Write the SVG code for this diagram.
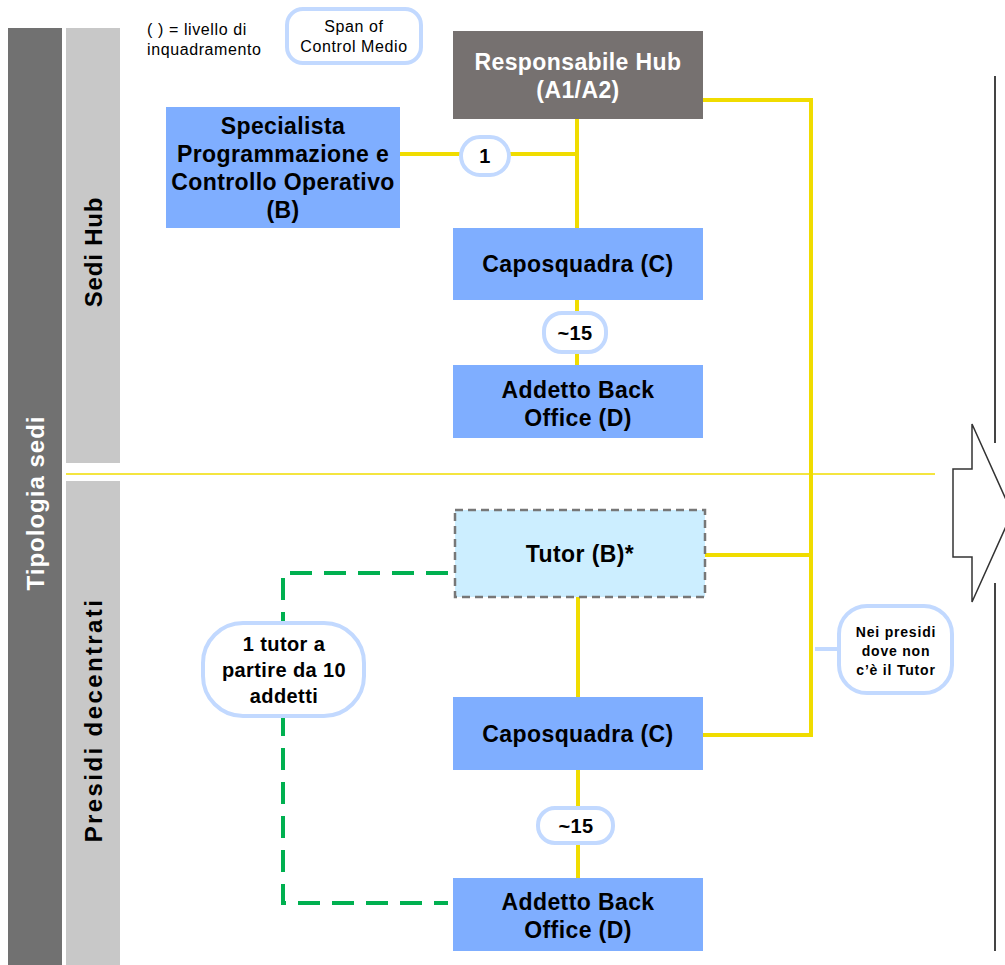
<svg xmlns="http://www.w3.org/2000/svg" width="1005" height="965" viewBox="0 0 1005 965">
<style>
text{font-family:"Liberation Sans",Arial,sans-serif;text-anchor:middle}
.b{font-weight:bold;font-size:23px;letter-spacing:0.4px;fill:#000}
.box{fill:#7FAEFF}
.badge{fill:#fff;stroke:#C2D9FF;stroke-width:4}
.y{stroke:#F0DC00;stroke-width:4;fill:none}
.g{stroke:#00B050;stroke-width:4;fill:none;stroke-dasharray:22,12}
.bt{font-weight:bold;font-size:20px;letter-spacing:0.4px}
.lg{font-size:16px;letter-spacing:0.6px}
.nb{font-weight:bold;font-size:14px;letter-spacing:0.8px}
</style>
<rect width="1005" height="965" fill="#fff"/>
<g id="bands">
<rect x="8" y="28" width="54" height="937" fill="#717171"/>
<rect x="66" y="28" width="54" height="435" fill="#C8C8C8"/>
<rect x="66" y="481" width="54" height="484" fill="#C8C8C8"/>
<text transform="translate(44,503) rotate(-90)" style="font-weight:bold;font-size:24px;letter-spacing:1px;fill:#fff">Tipologia sedi</text>
<text transform="translate(102,252) rotate(-90)" style="font-weight:bold;font-size:24px;letter-spacing:0.8px;fill:#000">Sedi Hub</text>
<text transform="translate(102,720) rotate(-90)" style="font-weight:bold;font-size:24px;letter-spacing:2.4px;fill:#000">Presidi decentrati</text>
<line x1="66" y1="474" x2="935" y2="474" stroke="#F0DC00" stroke-width="1.5"/>
</g>
<g id="legend">
<text class="lg" x="147" y="35" style="text-anchor:start">( ) = livello di</text>
<text class="lg" x="147" y="55" style="text-anchor:start">inquadramento</text>
<rect class="badge" x="287" y="9" width="134" height="54" rx="16"/>
<text class="lg" x="354" y="32">Span of</text>
<text class="lg" x="354" y="52">Control Medio</text>
</g>
<g id="connectors">
<line class="y" x1="577" y1="119" x2="577" y2="228"/>
<line class="y" x1="400" y1="154" x2="577" y2="154"/>
<line class="y" x1="577" y1="300" x2="577" y2="365"/>
<polyline class="y" points="703,100 811,100 811,735 703,735"/>
<line class="y" x1="705" y1="555" x2="811" y2="555"/>
<line class="y" x1="578" y1="597" x2="578" y2="697"/>
<line class="y" x1="578" y1="770" x2="578" y2="878"/>
<polyline class="g" points="448,573 283,573 283,903 448,903"/>
<line x1="815" y1="649" x2="839" y2="649" stroke="#C2D9FF" stroke-width="4"/>
<line x1="995" y1="76" x2="995" y2="443" stroke="#444" stroke-width="2"/>
<line x1="995" y1="583" x2="995" y2="951" stroke="#444" stroke-width="2"/>
<polygon points="953,469 972,469 972,424 1012,513 972,602 972,557 953,557" fill="#fff" stroke="#333" stroke-width="1.5"/>
</g>
<g id="resp">
<rect x="453" y="31" width="250" height="88" fill="#767170"/>
<text class="b" x="578" y="70" style="fill:#fff">Responsabile Hub</text>
<text class="b" x="578" y="98" style="fill:#fff">(A1/A2)</text>
</g>
<g id="specialista">
<rect class="box" x="166" y="107" width="234" height="121"/>
<text class="b" x="283" y="134">Specialista</text>
<text class="b" x="283" y="162">Programmazione e</text>
<text class="b" x="283" y="190">Controllo Operativo</text>
<text class="b" x="283" y="218">(B)</text>
</g>
<g id="badge1">
<rect class="badge" x="461" y="137" width="48" height="38" rx="19"/>
<text class="bt" x="485" y="163">1</text>
</g>
<g id="capo1">
<rect class="box" x="453" y="228" width="250" height="72"/>
<text class="b" x="578" y="272">Caposquadra (C)</text>
</g>
<g id="badge15a">
<rect class="badge" x="544" y="313" width="62" height="39" rx="18"/>
<text class="bt" x="575" y="340">~15</text>
</g>
<g id="addetto1">
<rect class="box" x="453" y="365" width="250" height="73"/>
<text class="b" x="578" y="398">Addetto Back</text>
<text class="b" x="578" y="426">Office (D)</text>
</g>
<g id="tutor">
<rect x="455" y="510" width="250" height="87" fill="#CCEEFF" stroke="#777" stroke-width="2.5" stroke-dasharray="8,5"/>
<text class="b" x="580" y="562">Tutor (B)*</text>
</g>
<g id="capo2">
<rect class="box" x="453" y="697" width="250" height="73"/>
<text class="b" x="578" y="742">Caposquadra (C)</text>
</g>
<g id="badge15b">
<rect class="badge" x="538" y="808" width="75" height="35" rx="17"/>
<text class="bt" x="576" y="833">~15</text>
</g>
<g id="addetto2">
<rect class="box" x="453" y="878" width="250" height="73"/>
<text class="b" x="578" y="910">Addetto Back</text>
<text class="b" x="578" y="938">Office (D)</text>
</g>
<g id="badgeTutor">
<rect class="badge" x="203" y="623" width="161" height="93" rx="40"/>
<text class="bt" x="284" y="651">1 tutor a</text>
<text class="bt" x="284" y="677">partire da 10</text>
<text class="bt" x="284" y="703">addetti</text>
</g>
<g id="badgeNei">
<rect class="badge" x="839" y="606" width="113" height="87" rx="28"/>
<text class="nb" x="896" y="637">Nei presidi</text>
<text class="nb" x="896" y="656">dove non</text>
<text class="nb" x="896" y="675">c’è il Tutor</text>
</g>
</svg>
